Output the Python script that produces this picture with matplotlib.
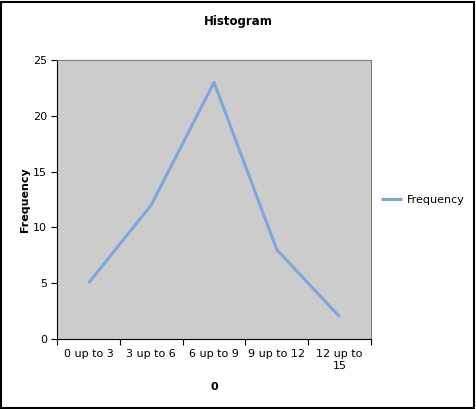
import matplotlib
matplotlib.use("Agg")
import matplotlib.pyplot as plt
import numpy as np
from matplotlib.patches import Rectangle

# data
categories = ["0 up to 3", "3 up to 6", "6 up to 9", "9 up to 12", "12 up to\n15"]
frequency = [5, 12, 23, 8, 2]

fig = plt.figure(figsize=(4.76, 4.09), dpi=100)
ax = fig.add_axes([57 / 476, 70 / 409, 314 / 476, 279 / 409])

x = np.arange(len(categories))
ax.plot(x, frequency, color="#7ba7dd", linewidth=2.2, label="Frequency",
        solid_capstyle="butt")

ax.set_facecolor("#cccccc")
ax.set_xlim(-0.5, len(categories) - 0.5)
ax.set_ylim(0, 25)
ax.set_yticks(np.arange(0, 26, 5))

# category ticks sit between the categories, labels in the middle
ax.set_xticks(np.arange(-0.5, len(categories), 1.0))
ax.set_xticklabels([])
ax.set_xticks(x, minor=True)
ax.set_xticklabels(categories, minor=True, fontsize=8, linespacing=1.3)
ax.tick_params(axis="x", which="minor", length=0, pad=7)
ax.tick_params(axis="x", which="major", length=4, width=0.8, color="black")
ax.tick_params(axis="y", length=4, width=0.8, labelsize=8, pad=3)

for s in ["left", "bottom"]:
    ax.spines[s].set_color("black")
    ax.spines[s].set_linewidth(0.8)
for s in ["top", "right"]:
    ax.spines[s].set_color("#808080")
    ax.spines[s].set_linewidth(0.8)

ax.set_xlabel("0", fontsize=8, fontweight="bold", labelpad=8)
ax.set_ylabel("Frequency", fontsize=8, fontweight="bold", labelpad=2)
fig.text(0.5, 1 - 22 / 409, "Histogram", ha="center", va="center",
         fontsize=8.5, fontweight="bold")

fig.legend(loc="center left", bbox_to_anchor=(371 / 476, 1 - 200 / 409),
           frameon=False, fontsize=8, handlelength=1.9, handletextpad=0.4)

# outer border of the chart
fig.patches.append(Rectangle((0.002, 0.002), 0.994, 0.994, transform=fig.transFigure,
                             fill=False, edgecolor="black", linewidth=1.5))

fig.savefig("out.png", dpi=100)
